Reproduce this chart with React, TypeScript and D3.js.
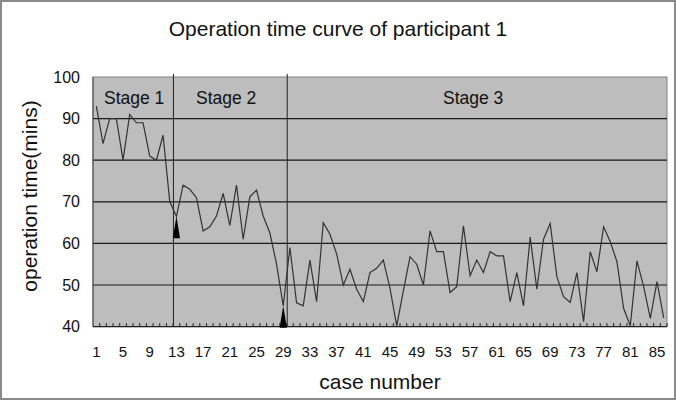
import React from "react";
import * as d3 from "d3";

const caseNumbers: number[] = Array.from({ length: 86 }, (_, i) => i + 1);
const operationTimes: number[] = [
  93, 84, 90, 90, 80, 91, 89, 89, 81, 80, 86, 70,
  66.5, 74, 73, 71, 63, 64, 66.6, 72, 64.3, 74, 61, 71.2, 72.8, 66.6, 62.5, 55, 45,
  59, 45.7, 45, 56, 46, 65, 62.2, 57.5, 50, 53.8, 49, 46, 53, 54, 56, 49.2, 40.2,
  48.6, 56.8, 55, 50, 63, 58, 58, 48.2, 49.6, 64.2, 52.2, 56, 53, 58, 57,
  57, 46, 53, 45, 61.5, 49, 61, 64.8, 52, 47.2, 45.8, 53, 41.2, 58, 53.2, 64, 60.4,
  55.6, 44.4, 40.2, 55.8, 49.6, 42, 50.8, 42.1,
];
const yTicks: number[] = [40, 50, 60, 70, 80, 90, 100];
const xTickLabels: number[] = [1, 5, 9, 13, 17, 21, 25, 29, 33, 37, 41, 45, 49, 53, 57, 61, 65, 69, 73, 77, 81, 85];
const stageNames: string[] = ["Stage 1", "Stage 2", "Stage 3"];
const stageBoundaries: number[] = [12.55, 29.6];
const markerCases: number[] = [13, 29];

const W = 676;
const H = 400;
const L = 93, R = 667, T = 77, B = 326.6;
const FONT = "'Liberation Sans', Arial, sans-serif";

export default function App() {
  const x = d3.scalePoint<number>().domain(caseNumbers).range([L, R]).padding(0.5);
  const step = x.step();
  const xc = (v: number) => L + step * (v - 0.5);
  const y = d3.scaleLinear().domain([40, 100]).range([B, T]);
  const line = d3
    .line<number>()
    .x((_, i) => x(caseNumbers[i]) as number)
    .y((d) => y(d));

  const stageLabelX = [104, 196, 443];

  return (
    <svg
      width={W}
      height={H}
      style={{ position: "absolute", left: 0, top: 0, background: "#fff" }}
      fontFamily={FONT}
    >
      <rect x={1} y={1} width={W - 2} height={H - 2} fill="#fff" stroke="#8a8a8a" strokeWidth={2} />
      <text x={338} y={36} textAnchor="middle" fontSize={21} fill="#111">
        Operation time curve of participant 1
      </text>
      <rect x={L} y={T} width={R - L} height={B - T} fill="#bdbdbd" stroke="#808080" strokeWidth={1} />
      {yTicks.slice(1, -1).map((t) => (
        <line key={t} x1={L} x2={R} y1={y(t)} y2={y(t)} stroke="#1a1a1a" strokeWidth={1.2} />
      ))}
      <line x1={L} x2={L} y1={T} y2={B} stroke="#555" strokeWidth={1.2} />
      <line x1={L} x2={R} y1={B} y2={B} stroke="#222" strokeWidth={1.2} />
      {caseNumbers.map((c) => (
        <line key={c} x1={xc(c + 0.5)} x2={xc(c + 0.5)} y1={B} y2={B - 3.5} stroke="#222" strokeWidth={1} />
      ))}
      {stageBoundaries.map((s, i) => (
        <line key={i} x1={xc(s)} x2={xc(s)} y1={T - 3} y2={B} stroke="#222" strokeWidth={1} />
      ))}
      <path d={line(operationTimes) || ""} fill="none" stroke="#333" strokeWidth={1.2} />
      {markerCases.map((c) => {
        const cx = x(c) as number;
        const top = y(operationTimes[c - 1]);
        return (
          <path key={c} d={`M${cx},${top} L${cx - 3.6},${top + 22} L${cx + 3.6},${top + 22} Z`} fill="#000" />
        );
      })}
      {stageNames.map((s, i) => (
        <text key={s} x={stageLabelX[i]} y={104} fontSize={17.5} fill="#111">
          {s}
        </text>
      ))}
      {yTicks.map((t) => (
        <text key={t} x={80} y={y(t) + 5.5} textAnchor="end" fontSize={16} fill="#111">
          {t}
        </text>
      ))}
      {xTickLabels.map((t) => (
        <text key={t} x={x(t) as number} y={357} textAnchor="middle" fontSize={15} fill="#111">
          {t}
        </text>
      ))}
      <text x={380} y={389} textAnchor="middle" fontSize={21} fill="#111">
        case number
      </text>
      <text
        transform={`translate(37,196) rotate(-90)`}
        textAnchor="middle"
        fontSize={21}
        fill="#111"
      >
        operation time(mins)
      </text>
    </svg>
  );
}
